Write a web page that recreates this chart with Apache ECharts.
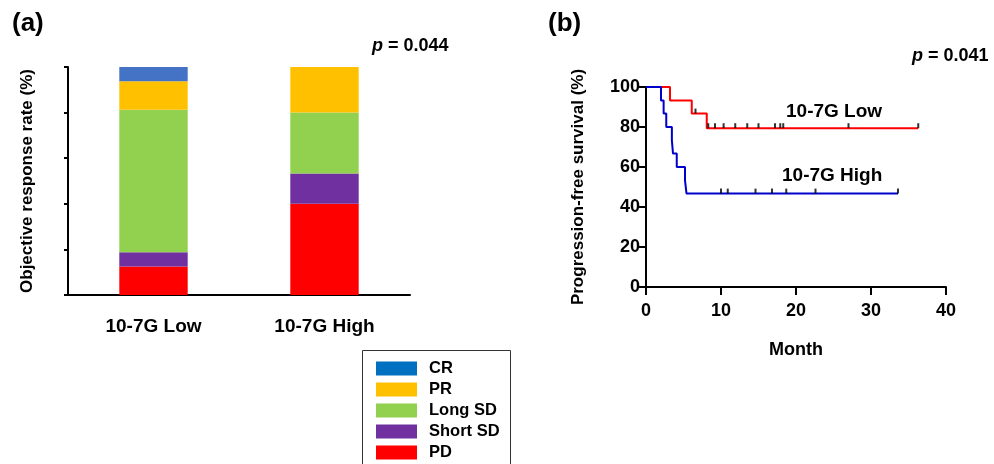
<!DOCTYPE html>
<html>
<head>
<meta charset="utf-8">
<script src="https://cdn.jsdelivr.net/npm/echarts@6/dist/echarts.min.js"></script>
<style>
  html, body { margin: 0; padding: 0; background: #fff; }
  #chart { width: 994px; height: 464px; }
</style>
</head>
<body>
<div id="chart"></div>
<script>
// ---- (a) response composition per group (%) ----
const groups = ['10-7G Low', '10-7G High'];
const responseNames = ['CR', 'PR', 'Long SD', 'Short SD', 'PD'];
const crValues      = [6.25, 0];
const prValues      = [12.5, 20.0];
const longSdValues  = [62.5, 26.7];
const shortSdValues = [6.25, 13.3];
const pdValues      = [12.5, 40.0];

// ---- (b) progression-free survival steps ----
const lowTimes  = [0, 3.2, 6.1, 8.1, 36.3];
const lowSurv   = [100, 93.3, 86.7, 79.4, 79.4];
const lowCensorTimes = [6.6, 8.3, 9.2, 10.35, 11.9, 13.5, 15.0, 17.2, 17.9, 18.3, 27.0, 36.3];
const lowCensorSurv  = [86.7, 79.4, 79.4, 79.4, 79.4, 79.4, 79.4, 79.4, 79.4, 79.4, 79.4, 79.4];

const highTimes = [0, 2.0, 2.35, 2.7, 3.45, 3.6, 4.1, 5.2, 5.4, 33.6];
const highSurv  = [100, 93.3, 86.7, 80.0, 73.3, 66.7, 60.0, 53.3, 46.7, 46.7];
const highCensorTimes = [10.0, 10.9, 14.6, 16.8, 18.7, 22.6, 33.6];
const highCensorSurv  = [46.7, 46.7, 46.7, 46.7, 46.7, 46.7, 46.7];

const yTicks = [0, 20, 40, 60, 80, 100];
const xTicks = [0, 10, 20, 30, 40];

const FONT = 'Liberation Sans, Arial, sans-serif';
const zip = (a, b) => a.map((v, i) => [v, b[i]]);

const barColors = {
  'CR': '#4472c4', 'PR': '#ffc000', 'Long SD': '#92d050',
  'Short SD': '#7030a0', 'PD': '#ff0000'
};
const legendColors = Object.assign({}, barColors, { 'CR': '#0070c0' });

const barSeries = [
  ['PD', pdValues], ['Short SD', shortSdValues], ['Long SD', longSdValues],
  ['PR', prValues], ['CR', crValues]
].map(([name, vals]) => ({
  name, type: 'bar', stack: 'orr', xAxisIndex: 0, yAxisIndex: 0,
  barWidth: '40%', data: vals, itemStyle: { color: barColors[name] }
}));

const axisBlack = { lineStyle: { color: '#000', width: 2 } };
const pStyle = { i: { fontStyle: 'italic', fontWeight: 'bold', fontSize: 18, fontFamily: FONT } };

const option = {
  animation: false,
  backgroundColor: '#fff',
  textStyle: { fontFamily: FONT },
  grid: [
    { left: 68, top: 67, width: 342, height: 228 },
    { left: 646, top: 87, width: 300, height: 200 }
  ],
  xAxis: [
    {
      gridIndex: 0, type: 'category', data: groups,
      axisLine: axisBlack, axisTick: { show: false },
      axisLabel: { margin: 22, color: '#000', fontSize: 19, fontWeight: 'bold', fontFamily: FONT }
    },
    {
      gridIndex: 1, type: 'value', min: 0, max: 40, interval: 10,
      axisLine: axisBlack,
      axisTick: { show: true, length: 8, lineStyle: { color: '#000', width: 2 } },
      axisLabel: { margin: 15, color: '#000', fontSize: 18, fontWeight: 'bold', fontFamily: FONT,
                   formatter: v => xTicks.includes(v) ? String(v) : '' },
      splitLine: { show: false },
      name: 'Month', nameLocation: 'middle', nameGap: 54,
      nameTextStyle: { color: '#000', fontSize: 18, fontWeight: 'bold', fontFamily: FONT }
    }
  ],
  yAxis: [
    {
      gridIndex: 0, type: 'value', min: 0, max: 100, interval: 20,
      axisLine: { show: true, lineStyle: { color: '#000', width: 2 } },
      axisTick: { show: true, length: 4, lineStyle: { color: '#000', width: 2 } },
      axisLabel: { show: false }, splitLine: { show: false },
      name: 'Objective response rate (%)', nameLocation: 'middle', nameGap: 32,
      nameTextStyle: { color: '#000', fontSize: 17, fontWeight: 'bold', fontFamily: FONT }
    },
    {
      gridIndex: 1, type: 'value', min: 0, max: 100, interval: 20,
      axisLine: { show: true, lineStyle: { color: '#000', width: 2 } },
      axisTick: { show: true, length: 8, lineStyle: { color: '#000', width: 2 } },
      axisLabel: { margin: 6, color: '#000', fontSize: 18, fontWeight: 'bold', fontFamily: FONT,
                   formatter: v => yTicks.includes(v) ? String(v) : '' },
      splitLine: { show: false },
      name: 'Progression-free survival (%)', nameLocation: 'middle', nameGap: 59,
      nameTextStyle: { color: '#000', fontSize: 17, fontWeight: 'bold', fontFamily: FONT }
    }
  ],
  legend: {
    orient: 'vertical', left: 376, top: 360, height: 140,
    itemWidth: 41, itemHeight: 14, itemGap: 4,
    icon: 'rect', padding: 0,
    textStyle: { color: '#000', fontSize: 16.5, fontWeight: 'bold', fontFamily: FONT,
                 lineHeight: 16, padding: [0, 0, 0, 7] },
    data: responseNames.map(n => ({ name: n, itemStyle: { color: legendColors[n] } }))
  },
  graphic: [
    { type: 'rect', shape: { x: 362.5, y: 350.5, width: 148, height: 130 },
      style: { fill: 'none', stroke: '#333', lineWidth: 1 } },
    { type: 'text', left: 12, top: 11,
      style: { text: '(a)', font: 'bold 26px ' + FONT, fill: '#000' } },
    { type: 'text', left: 548, top: 11,
      style: { text: '(b)', font: 'bold 26px ' + FONT, fill: '#000' } },
    { type: 'text', left: 372, top: 37,
      style: { text: '{i|p} = 0.044', font: 'bold 18px ' + FONT, fill: '#000', rich: pStyle } },
    { type: 'text', left: 912, top: 47,
      style: { text: '{i|p} = 0.041', font: 'bold 18px ' + FONT, fill: '#000', rich: pStyle } },
    { type: 'text', left: 786, top: 102,
      style: { text: '10-7G Low', font: 'bold 19px ' + FONT, fill: '#000' } },
    { type: 'text', left: 782, top: 166,
      style: { text: '10-7G High', font: 'bold 19px ' + FONT, fill: '#000' } }
  ],
  series: barSeries.concat([
    {
      name: '10-7G Low', type: 'line', xAxisIndex: 1, yAxisIndex: 1,
      step: 'end', showSymbol: false, symbol: 'none',
      lineStyle: { color: '#ff0000', width: 2 }, data: zip(lowTimes, lowSurv), z: 3
    },
    {
      name: '10-7G High', type: 'line', xAxisIndex: 1, yAxisIndex: 1,
      step: 'end', showSymbol: false, symbol: 'none',
      lineStyle: { color: '#0000cc', width: 2 }, data: zip(highTimes, highSurv), z: 3
    },
    {
      name: 'Low censored', type: 'scatter', xAxisIndex: 1, yAxisIndex: 1,
      symbol: 'rect', symbolSize: [2, 5], symbolOffset: [0, -2.5],
      itemStyle: { color: '#000' }, data: zip(lowCensorTimes, lowCensorSurv), z: 4
    },
    {
      name: 'High censored', type: 'scatter', xAxisIndex: 1, yAxisIndex: 1,
      symbol: 'rect', symbolSize: [2, 5], symbolOffset: [0, -2.5],
      itemStyle: { color: '#000' }, data: zip(highCensorTimes, highCensorSurv), z: 4
    }
  ])
};

const chart = echarts.init(document.getElementById('chart'), null, { renderer: 'canvas' });
chart.setOption(option);
</script>
</body>
</html>
